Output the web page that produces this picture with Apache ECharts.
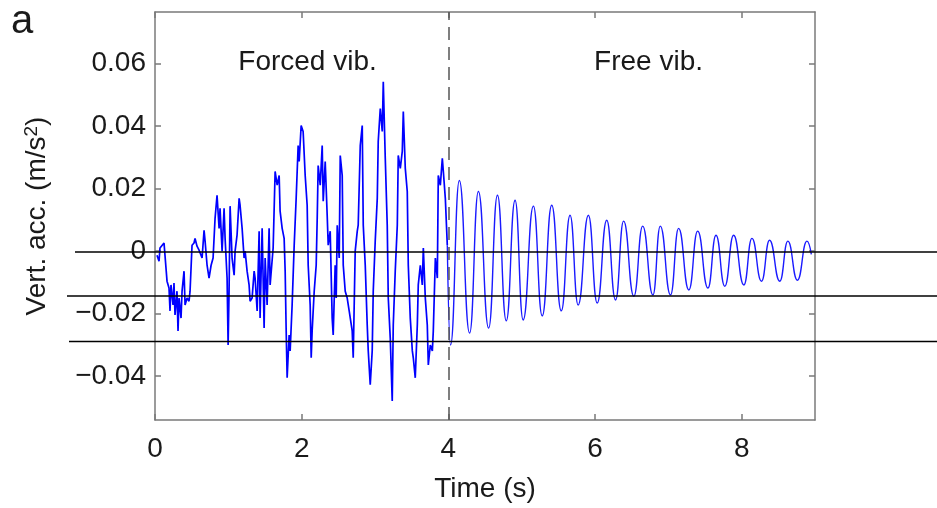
<!DOCTYPE html>
<html><head><meta charset="utf-8">
<script src="https://cdn.jsdelivr.net/npm/echarts@6/dist/echarts.min.js"></script>
<style>html,body{margin:0;padding:0;background:#fff;overflow:hidden}#c{width:937px;height:508px}</style>
</head><body><div id="c"></div>
<script>
// ---- data ----
const forcedT = [
0.027,0.055,0.068,0.123,0.137,0.164,0.191,0.205,0.218,0.246,
0.259,0.273,0.300,0.314,0.328,0.355,0.369,0.396,0.410,0.437,
0.464,0.478,0.505,0.532,0.546,0.573,0.601,0.614,0.642,0.669,
0.683,0.710,0.737,0.765,0.792,0.819,0.846,0.874,0.887,0.915,
0.942,0.956,0.983,0.997,1.010,1.024,1.051,1.079,1.092,1.119,
1.147,1.160,1.188,1.215,1.229,1.256,1.283,1.297,1.324,1.352,
1.365,1.393,1.420,1.433,1.461,1.488,1.502,1.529,1.556,1.570,
1.611,1.638,1.666,1.693,1.706,1.734,1.761,1.775,1.788,1.802,
1.829,1.843,1.870,1.898,1.925,1.952,1.966,1.993,2.007,2.020,
2.048,2.075,2.089,2.116,2.130,2.143,2.171,2.198,2.212,2.225,
2.253,2.280,2.294,2.321,2.348,2.362,2.389,2.416,2.430,2.457,
2.471,2.485,2.512,2.526,2.553,2.567,2.594,2.621,2.648,2.689,
2.703,2.730,2.758,2.771,2.799,2.826,2.840,2.867,2.894,2.908,
2.935,2.962,2.976,3.003,3.031,3.044,3.072,3.099,3.113,3.140,
3.167,3.181,3.208,3.235,3.249,3.276,3.304,3.317,3.345,3.372,
3.386,3.413,3.440,3.454,3.481,3.509,3.522,3.549,3.577,3.590,
3.618,3.645,3.659,3.686,3.713,3.727,3.754,3.782,3.795,3.823,
3.850,3.863,3.891,3.918,3.932,3.959,3.986];
const forcedV = [
-0.0013,-0.0032,0.0010,0.0026,0.0032,-0.0096,-0.0118,-0.0191,-0.0108,-0.0172,
-0.0102,-0.0204,-0.0128,-0.0255,-0.0150,-0.0214,-0.0128,-0.0064,-0.0172,-0.0150,
-0.0160,-0.0128,0.0019,0.0026,0.0041,0.0016,0.0003,0.0000,-0.0022,0.0067,
0.0032,-0.0045,-0.0086,-0.0045,-0.0022,0.0105,0.0179,0.0073,0.0137,0.0000,
0.0137,0.0041,-0.0086,-0.0300,-0.0128,0.0144,-0.0022,-0.0077,0.0000,0.0051,
0.0169,0.0147,0.0073,-0.0022,0.0000,-0.0064,-0.0108,-0.0160,-0.0150,-0.0064,
-0.0086,-0.0191,0.0064,-0.0214,0.0073,-0.0246,-0.0022,-0.0172,0.0073,-0.0108,
0.0010,0.0255,0.0211,0.0242,0.0128,0.0073,0.0041,-0.0064,-0.0246,-0.0405,
-0.0268,-0.0319,-0.0172,0.0019,0.0169,0.0338,0.0287,0.0402,0.0402,0.0383,
0.0242,0.0147,-0.0045,-0.0172,-0.0341,-0.0255,-0.0128,-0.0045,0.0105,0.0274,
0.0211,0.0338,0.0160,0.0287,0.0115,0.0019,0.0064,-0.0214,-0.0268,-0.0045,
-0.0150,0.0083,-0.0022,0.0306,0.0242,-0.0045,-0.0128,-0.0150,-0.0191,-0.0255,
-0.0341,0.0000,0.0064,0.0083,0.0338,0.0402,0.0083,-0.0045,-0.0236,-0.0319,
-0.0427,-0.0319,-0.0128,0.0032,0.0169,0.0351,0.0456,0.0383,0.0542,0.0297,
0.0083,-0.0150,-0.0278,-0.0479,-0.0236,-0.0064,0.0083,0.0306,0.0265,0.0319,
0.0447,0.0265,0.0191,-0.0045,-0.0214,-0.0319,-0.0341,-0.0405,-0.0236,-0.0108,
-0.0045,-0.0108,0.0010,-0.0150,-0.0236,-0.0364,-0.0300,-0.0319,-0.0255,-0.0022,
-0.0086,0.0242,0.0211,0.0297,0.0255,0.0169,0.0019];
const freeT = [4.03,4.15,4.29,4.41,4.55,4.67,4.79,4.91,5.02,5.16,5.28,5.41,5.54,5.66,5.77,5.91,
6.03,6.16,6.28,6.39,6.53,6.65,6.79,6.89,7.03,7.14,7.28,7.40,7.54,7.65,7.77,7.89,
8.03,8.14,8.27,8.38,8.52,8.63,8.76,8.89,8.95];
const freeV = [-0.0300,0.0226,-0.0262,0.0191,-0.0246,0.0179,-0.0223,0.0163,-0.0220,0.0144,-0.0207,0.0147,-0.0191,0.0115,-0.0172,0.0115,
-0.0166,0.0099,-0.0156,0.0096,-0.0144,0.0080,-0.0140,0.0080,-0.0140,0.0073,-0.0124,0.0064,-0.0118,0.0051,-0.0112,0.0051,
-0.0108,0.0041,-0.0096,0.0035,-0.0096,0.0032,-0.0093,0.0032,-0.0010];
const xTicks = [0, 2, 4, 6, 8];
const yTicks = [-0.04, -0.02, 0, 0.02, 0.04, 0.06];
const phaseBoundary = 4;
const phaseNames = ['Forced vib.', 'Free vib.'];
const refLevels = [-0.0003, -0.0143, -0.0289];

// ---- chart ----
const FONT = "'Liberation Sans', Arial, Helvetica, sans-serif";
const TXT = '#1a1a1a';
const FRAME = '#7a7a7a';
const forcedData = forcedT.map((t, i) => [t, forcedV[i]]);
const freeData = [[forcedT[forcedT.length-1], forcedV[forcedV.length-1]]].concat(freeT.map((t, i) => [t, freeV[i]]));
const fmtY = v => v === 0 ? '0' : (v < 0 ? '\u2212' : '') + Math.abs(v).toFixed(2);

function axisX(pos, showLabel, name) {
  return {
    type: 'value', position: pos, min: 0, max: 9,
    axisLine: { show: true, onZero: false, lineStyle: { color: FRAME, width: 1.5 } },
    axisTick: { show: true, inside: true, length: 6, customValues: xTicks, lineStyle: { color: FRAME, width: 1.5 } },
    axisLabel: { show: showLabel, customValues: xTicks, margin: 15, fontSize: 28, color: TXT, fontFamily: FONT },
    splitLine: { show: false },
    name: name, nameLocation: 'middle', nameGap: 55,
    nameTextStyle: { fontSize: 28, color: TXT, fontFamily: FONT }
  };
}
function axisY(pos, showLabel, name) {
  return {
    type: 'value', position: pos, min: -0.054, max: 0.0765,
    axisLine: { show: true, onZero: false, lineStyle: { color: FRAME, width: 1.5 } },
    axisTick: { show: true, inside: true, length: 6, customValues: yTicks, lineStyle: { color: FRAME, width: 1.5 } },
    axisLabel: { show: showLabel, customValues: yTicks, margin: 9, fontSize: 28, color: TXT, fontFamily: FONT, formatter: fmtY },
    splitLine: { show: false },
    name: name, nameLocation: 'middle', nameGap: 102, nameRotate: 90,
    nameTextStyle: { fontSize: 28, color: TXT, fontFamily: FONT,
      rich: { sup: { fontSize: 19, verticalAlign: 'top', color: TXT, fontFamily: FONT, padding: [0, 0, 12, 0] } } }
  };
}

const chart = echarts.init(document.getElementById('c'), null, { renderer: 'canvas' });
chart.setOption({
  animation: false,
  backgroundColor: '#fff',
  grid: { left: 155, right: 122, top: 12, bottom: 81 },
  xAxis: [axisX('bottom', true, 'Time (s)'), axisX('top', false, '')],
  yAxis: [axisY('left', true, 'Vert. acc. (m/s{sup|2})'), axisY('right', false, '')],
  series: [
    { type: 'line', data: forcedData, showSymbol: false, symbol: 'none',
      lineStyle: { color: '#0000ff', width: 1.7 }, itemStyle: { color: '#0000ff' },
      markLine: { silent: true, symbol: ['none', 'none'], label: { show: false },
        lineStyle: { color: '#555', type: [13, 7], width: 1.5 },
        data: [{ xAxis: phaseBoundary }] } },
    { type: 'line', data: freeData, showSymbol: false, symbol: 'none', smooth: 0.5, smoothMonotone: 'x',
      lineStyle: { color: '#1a1aff', width: 1.4 }, itemStyle: { color: '#0000ff' } }
  ]
});

const px = (t, v) => chart.convertToPixel({ gridIndex: 0 }, [t, v]);
const graphics = [];
refLevels.forEach((lv, i) => {
  const y = px(0, lv)[1];
  const x0 = [75, 67, 69][i];
  graphics.push({ type: 'line', shape: { x1: x0, y1: y, x2: 937, y2: y }, style: { stroke: '#000', lineWidth: 1.5 }, z: 100 });
});
const p1 = px(2.08, 0.0605), p2 = px(6.73, 0.0605);
graphics.push({ type: 'text', x: p1[0], y: p1[1], style: { text: phaseNames[0], fontSize: 28, fill: TXT, fontFamily: FONT, textAlign: 'center', textVerticalAlign: 'middle' } });
graphics.push({ type: 'text', x: p2[0], y: p2[1], style: { text: phaseNames[1], fontSize: 28, fill: TXT, fontFamily: FONT, textAlign: 'center', textVerticalAlign: 'middle' } });
graphics.push({ type: 'text', x: 11, y: 22, style: { text: 'a', fontSize: 40, fill: TXT, fontFamily: FONT, textAlign: 'left', textVerticalAlign: 'middle' } });
chart.setOption({ graphic: graphics });
</script></body></html>
